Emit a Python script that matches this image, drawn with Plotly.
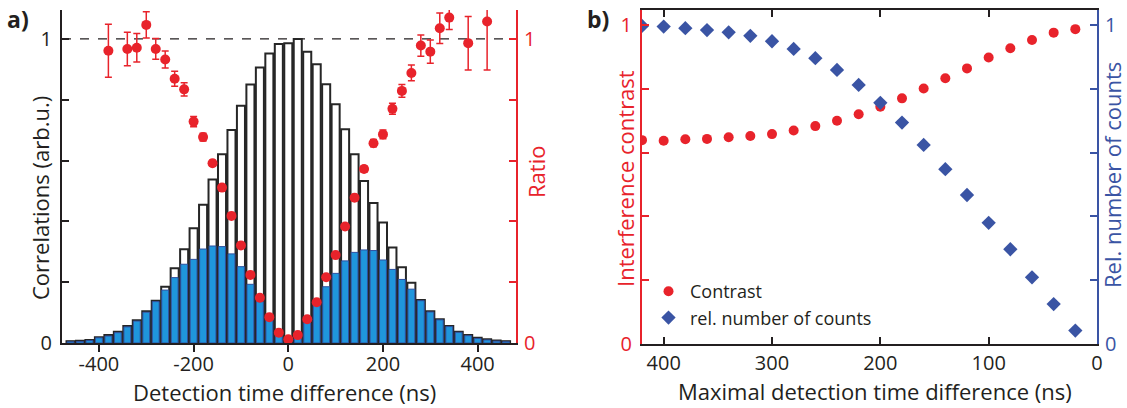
import plotly.graph_objects as go

# ---------------- Data: panel a ----------------
bar_t = list(range(-460, 461, 20))
corr_total = [0.006, 0.007, 0.010, 0.019, 0.026, 0.037, 0.056, 0.075, 0.104, 0.139,
              0.185, 0.246, 0.308, 0.377, 0.455, 0.538, 0.621, 0.700, 0.780, 0.850,
              0.906, 0.952, 0.983, 0.986, 1.000, 0.958, 0.917, 0.851, 0.785, 0.703,
              0.621, 0.533, 0.460, 0.396, 0.314, 0.249, 0.198, 0.141, 0.104, 0.078,
              0.056, 0.037, 0.026, 0.017, 0.012, 0.008, 0.006]
corr_filtered = [0.004, 0.005, 0.008, 0.017, 0.023, 0.034, 0.053, 0.072, 0.101, 0.136,
                 0.174, 0.215, 0.259, 0.275, 0.309, 0.319, 0.317, 0.293, 0.251, 0.193,
                 0.136, 0.081, 0.033, 0.010, 0.026, 0.067, 0.130, 0.185, 0.229, 0.270,
                 0.298, 0.306, 0.304, 0.273, 0.242, 0.209, 0.177, 0.139, 0.102, 0.076,
                 0.054, 0.035, 0.024, 0.015, 0.010, 0.006, 0.004]

ratio_t = [-380, -340, -320, -300, -280, -260, -240, -220, -200, -180, -160, -140,
           -120, -100, -80, -60, -40, -20, 0, 20, 40, 60, 80, 100, 120, 140, 160,
           180, 200, 220, 240, 260, 280, 300, 320, 340, 380, 420]
ratio = [0.961, 0.967, 0.971, 1.046, 0.967, 0.932, 0.869, 0.834, 0.728, 0.677, 0.591, 0.511,
         0.418, 0.321, 0.224, 0.149, 0.085, 0.034, 0.012, 0.026, 0.078, 0.134, 0.216, 0.289,
         0.383, 0.478, 0.572, 0.657, 0.686, 0.770, 0.829, 0.888, 0.978, 0.958, 1.035, 1.070,
         0.986, 1.057]
ratio_err = [0.087, 0.055, 0.047, 0.043, 0.034, 0.028, 0.025, 0.022, 0.017, 0.013, 0.010, 0.008,
             0.007, 0.006, 0.005, 0.004, 0.003, 0.002, 0.002, 0.002, 0.003, 0.004, 0.005, 0.006,
             0.007, 0.008, 0.010, 0.012, 0.014, 0.018, 0.021, 0.026, 0.035, 0.038, 0.050, 0.039,
             0.088, 0.159]

a_xticks = [-400, -200, 0, 200, 400]
a_xticktext = ["-400", "-200", "0", "200", "400"]
a_yticks = [0, 0.2, 0.4, 0.6, 0.8, 1.0]
a_yticktext = ["0", "", "", "", "", "1"]

# ---------------- Data: panel b ----------------
max_dt = [420, 400, 380, 360, 340, 320, 300, 280, 260, 240, 220, 200, 180, 160, 140,
          120, 100, 80, 60, 40, 20]
contrast = [0.639, 0.637, 0.642, 0.643, 0.648, 0.652, 0.658, 0.669, 0.683, 0.700, 0.720,
            0.744, 0.770, 0.801, 0.833, 0.864, 0.898, 0.927, 0.953, 0.976, 0.987]
rel_counts = [0.997, 0.995, 0.990, 0.984, 0.977, 0.966, 0.949, 0.925, 0.896, 0.859, 0.812,
              0.756, 0.694, 0.624, 0.548, 0.467, 0.380, 0.297, 0.209, 0.125, 0.042]
b_xticks = [400, 300, 200, 100, 0]

# ---------------- Styles ----------------
W, H = 1127, 408
RED = "#e8232b"
BLUE = "#3a54a4"
BARBLUE = "#1f96dc"
BAREDGE = "#2e4f9f"
TXT = "#231f20"
FONT = "Open Sans"

def px(x):
    return x / W

def py(y):
    return 1 - y / H

fig = go.Figure()

fig.add_trace(go.Bar(x=bar_t, y=corr_total, width=17, xaxis="x", yaxis="y",
                     marker=dict(color="white", line=dict(color="#262626", width=2)),
                     showlegend=False))
fig.add_trace(go.Bar(x=bar_t, y=corr_filtered, width=14.5, xaxis="x", yaxis="y",
                     marker=dict(color=BARBLUE, line=dict(color=BAREDGE, width=1)),
                     showlegend=False))
fig.add_trace(go.Scatter(x=ratio_t, y=ratio, mode="markers", xaxis="x", yaxis="y2",
                         marker=dict(color=RED, size=10),
                         error_y=dict(type="data", array=ratio_err, color=RED,
                                      thickness=1.5, width=3.5),
                         showlegend=False))

fig.add_trace(go.Scatter(x=max_dt, y=contrast, mode="markers", xaxis="x2", yaxis="y3",
                         name="Contrast", marker=dict(color=RED, size=10)))
fig.add_trace(go.Scatter(x=max_dt, y=rel_counts, mode="markers", xaxis="x2", yaxis="y4",
                         name="rel. number of counts",
                         marker=dict(color=BLUE, size=11, symbol="diamond")))

TICKSIZE = 20
tickfont = dict(family=FONT, size=TICKSIZE, color=TXT)
common_ax = dict(showgrid=False, zeroline=False, showline=True, linewidth=2,
                 tickwidth=1.5, ticklen=7, automargin=False)

yA = [py(343), py(10)]
yB = [py(344), py(10)]
xA = [px(62), px(516)]
xB = [px(642), px(1097)]

fig.update_layout(
    width=W, height=H,
    margin=dict(l=0, r=0, t=0, b=0, pad=0, autoexpand=False),
    paper_bgcolor="white", plot_bgcolor="white",
    barmode="overlay",
    font=dict(family=FONT, color=TXT),
    xaxis=dict(domain=xA, anchor="y", range=[-478, 481], tickvals=a_xticks,
               ticktext=a_xticktext, ticklabelstandoff=-5,
               ticks="outside", linecolor=TXT, tickcolor=TXT, tickfont=tickfont,
               **common_ax),
    xaxis3=dict(overlaying="x", anchor="y", side="top", range=[-478, 481],
                tickvals=a_xticks, ticks="inside", showticklabels=False,
                linecolor=TXT, tickcolor=TXT, **common_ax),
    yaxis=dict(domain=yA, anchor="x", range=[0, 1.095], tickvals=a_yticks,
               ticktext=a_yticktext, ticks="inside", linecolor=TXT, tickcolor=TXT,
               tickfont=tickfont, ticklabelstandoff=4, **common_ax),
    yaxis2=dict(overlaying="y", anchor="x", side="right", range=[0, 1.095],
                tickvals=a_yticks, ticktext=a_yticktext, ticks="inside",
                linecolor=RED, tickcolor=RED, ticklabelstandoff=2,
                tickfont=dict(family=FONT, size=TICKSIZE, color=RED), **common_ax),
    xaxis2=dict(domain=xB, anchor="y3", range=[420, 0], tickvals=b_xticks,
                ticks="inside", mirror="ticks", linecolor=TXT, tickcolor=TXT,
                tickfont=tickfont, **common_ax),
    yaxis3=dict(domain=yB, anchor="x2", range=[0, 1.047], tickvals=a_yticks,
                ticktext=a_yticktext, ticks="inside", linecolor=RED, tickcolor=RED,
                ticklabelstandoff=4,
                tickfont=dict(family=FONT, size=TICKSIZE, color=RED), **common_ax),
    yaxis4=dict(overlaying="y3", anchor="x2", side="right", range=[0, 1.047],
                tickvals=a_yticks, ticktext=a_yticktext, ticks="inside",
                linecolor=BLUE, tickcolor=BLUE, ticklabelstandoff=2,
                tickfont=dict(family=FONT, size=TICKSIZE, color=BLUE), **common_ax),
    legend=dict(x=px(647), y=py(273), xanchor="left", yanchor="top",
                bgcolor="rgba(0,0,0,0)", font=dict(family=FONT, size=18, color=TXT),
                itemwidth=33, tracegroupgap=0),
    showlegend=True,
)

fig.add_shape(type="line", xref="x domain", yref="y", x0=0, x1=1, y0=1, y1=1,
              line=dict(color=TXT, width=1.3, dash="dash"), layer="below")

def ann(text, x, y, size=22, color=TXT, angle=0, bold=False):
    fig.add_annotation(text=f"<b>{text}</b>" if bold else text,
                       x=px(x), y=py(y), xref="paper", yref="paper",
                       xanchor="center", yanchor="middle", showarrow=False,
                       textangle=angle, font=dict(family=FONT, size=size, color=color))

ann("Correlations (arb.u.)", 40, 198, angle=-90)
ann("Ratio", 536, 172, color=RED, angle=-90)
ann("Detection time difference (ns)", 284, 392)
ann("Maximal detection time difference (ns)", 875, 391)
ann("Interference contrast", 625, 179, color=RED, angle=-90)
ann("Rel. number of counts", 1112, 175, color=BLUE, angle=-90)
ann("a)", 18, 19, size=23, bold=True)
ann("b)", 598, 19, size=23, bold=True)

fig.write_html("out.html")
